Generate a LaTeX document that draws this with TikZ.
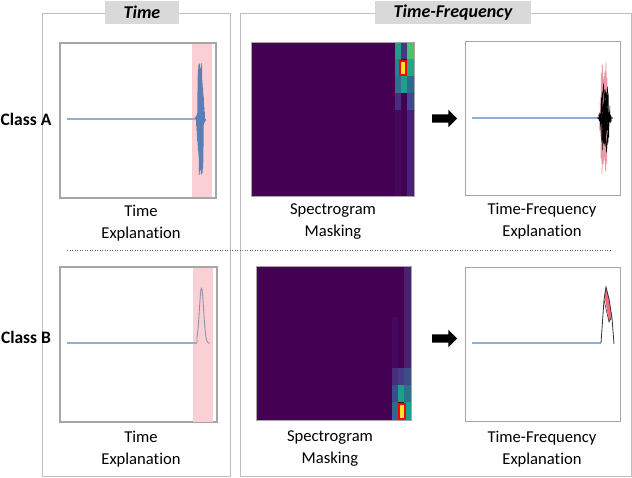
\documentclass[tikz,border=0pt]{standalone}
\usepackage{fontspec}
\setmainfont{Carlito}[Ligatures=NoCommon,RawFeature=-liga]
\usetikzlibrary{shapes.arrows}
\definecolor{vpurple}{HTML}{440154}
\definecolor{framegray}{HTML}{BFBFBF}
\definecolor{plotgray}{HTML}{A6A6A6}
\definecolor{tabgray}{HTML}{D9D9D9}
\definecolor{bandpink}{HTML}{FAD0D4}
\definecolor{sigblue}{HTML}{8FB0D4}
\definecolor{burstblue}{HTML}{5B7DB8}
\definecolor{peakgray}{HTML}{8A95B0}
\definecolor{burstpink}{HTML}{E89AA6}
\definecolor{peakred}{HTML}{EE6F7A}
\definecolor{vA}{HTML}{46085C}
\definecolor{vB}{HTML}{482173}
\definecolor{vC}{HTML}{472D7B}
\definecolor{vD}{HTML}{3E4A89}
\definecolor{vE}{HTML}{31688E}
\definecolor{vF}{HTML}{26828E}
\definecolor{vG}{HTML}{1F9E89}
\definecolor{vI}{HTML}{4AC16D}
\definecolor{vJ}{HTML}{443A83}
\definecolor{vK}{HTML}{22A884}
\definecolor{vL}{HTML}{2C728E}
\definecolor{vyel}{HTML}{FDE725}
\tikzset{
  outerbox/.style={draw=framegray, line width=0.9pt},
  tab/.style={fill=tabgray, inner sep=0pt, font=\fontsize{18}{20}\selectfont\bfseries\itshape},
  plotbox/.style={draw=plotgray, line width=1.2pt, fill=white},
  specbox/.style={draw=plotgray, line width=0.8pt, fill=vpurple},
  lbl/.style={align=center, font=\fontsize{16.6}{22}\selectfont, inner sep=0pt},
  cls/.style={font=\fontsize{17.5}{20}\selectfont\bfseries, inner sep=0pt},
  blockarrow/.style={single arrow, fill=black, draw=none, minimum height=25pt,
    minimum width=17pt, single arrow head extend=4.5pt, inner sep=4pt},
  band/.style={fill=bandpink, draw=none},
  hot/.style={fill=vyel, draw=red, line width=1.1pt}
}
\begin{document}
\begin{tikzpicture}[x=1pt,y=-1pt]
\useasboundingbox (0,0) rectangle (632,478);
\fill[white] (0,0) rectangle (632,478);

% outer panels
\draw[outerbox] (42,13) rectangle (230,476);
\draw[outerbox] (240,13) rectangle (631,476);
\node[tab, minimum width=74pt, minimum height=23pt] (tabT) at (142,12.5) {Time};
\node[tab, minimum width=156pt, minimum height=23pt] (tabTF) at (453,12.5) {Time-Frequency};

% class labels
\node[cls] (clsA) at (26,119) {Class A};
\node[cls] (clsB) at (26,337) {Class B};

% ---------- Class A : time ----------
\node[plotbox, minimum width=155pt, minimum height=154pt, inner sep=0pt, anchor=north west] (pA) at (60,43) {};
\fill[band] (192,43) rectangle (212,197);
\draw[plotgray, line width=1.2pt] (pA.north west) rectangle (pA.south east);
\draw[sigblue, line width=1.2pt] (67,119) -- (196,119);
\draw[burstblue, line width=0.5pt] plot[samples=110, domain=-7:7, smooth=false]
  ({200.5+0.5*\x+1.8*sin(\x*733)}, {119+56*exp(-(\x/3.2)^2)*sin(\x*1400)});
\node[lbl] (tA) at (141,223) {Time\\Explanation};

% ---------- Class A : spectrogram ----------
\node[specbox, minimum width=163pt, minimum height=154pt, inner sep=0pt, anchor=north west] (sA) at (251,42) {};
\fill[vA] (395,110) rectangle (401,196);
\fill[vB] (407,110) rectangle (414,196);
\fill[vC] (395,93) rectangle (401,110);
\fill[vD] (407,93) rectangle (414,110);
\fill[vL] (395,76) rectangle (401,93);
\fill[vG] (401,76) rectangle (407,93);
\fill[vE] (407,76) rectangle (414,93);
\fill[vF] (395,59) rectangle (401,76);
\fill[vK] (407,59) rectangle (414,76);
\fill[vG] (395,42) rectangle (401,59);
\fill[vJ] (401,42) rectangle (407,59);
\fill[vI] (407,42) rectangle (414,59);
\draw[hot] (400,61) rectangle (406,75);
\draw[plotgray, line width=0.8pt] (sA.north west) rectangle (sA.south east);
\node[lbl] (mA) at (333,222) {Spectrogram\\Masking};
\node[blockarrow] (arA) at (442.5,118.5) {};

% ---------- Class A : time-frequency ----------
\node[plotbox, minimum width=155pt, minimum height=154pt, inner sep=0pt, anchor=north west] (qA) at (465,41) {};
\draw[sigblue, line width=1.2pt] (472,118) -- (600,118);
\draw[burstpink, line width=0.6pt] plot[samples=140, domain=-7:7, smooth=false]
  ({604+0.5*\x+2.2*sin(\x*811)}, {118+57*exp(-(\x/3.2)^2)*sin(\x*1300)});
\draw[black, line width=0.45pt] plot[samples=110, domain=-6:6, smooth=false]
  ({605+0.9*\x+2.5*sin(\x*677)}, {118+34*exp(-(\x/2.8)^2)*sin(\x*1511)});
\node[lbl] (eA) at (542,221) {Time-Frequency\\Explanation};

% separator
\coordinate (sepL) at (67,250);
\coordinate (sepR) at (610,250);
\draw[gray!80!black, line width=0.5pt, dotted] (sepL) -- (sepR);

% ---------- Class B : time ----------
\node[plotbox, minimum width=156pt, minimum height=154pt, inner sep=0pt, anchor=north west] (pB) at (60,267) {};
\fill[band] (193,267) rectangle (213,422);
\draw[plotgray, line width=1.2pt] (pB.north west) rectangle (pB.south east);
\draw[sigblue, line width=1.2pt] (67,343) -- (197,343);
\draw[peakgray, line width=0.9pt] (197,343) -- plot[samples=40, domain=197:209] (\x, {343-55*exp(-((\x-201.5)/3)^2)}) -- (209,344);
\node[lbl] (tB) at (141,449) {Time\\Explanation};

% ---------- Class B : spectrogram ----------
\node[specbox, minimum width=155pt, minimum height=154pt, inner sep=0pt, anchor=north west] (sB) at (256,266) {};
\fill[vB] (404,266) rectangle (411,368);
\fill[vA] (392,317) rectangle (398,368);
\fill[vC] (392,368) rectangle (398,385);
\fill[vJ] (398,368) rectangle (404,385);
\fill[vD] (404,368) rectangle (411,385);
\fill[vD] (392,385) rectangle (398,402);
\fill[vG] (398,385) rectangle (404,402);
\fill[vL] (404,385) rectangle (411,402);
\fill[vE] (392,402) rectangle (398,420);
\fill[vG] (404,402) rectangle (411,420);
\draw[hot] (399,404) rectangle (405,419);
\draw[plotgray, line width=0.8pt] (sB.north west) rectangle (sB.south east);
\node[lbl] (mB) at (330,449) {Spectrogram\\Masking};
\node[blockarrow] (arB) at (442.5,338.5) {};

% ---------- Class B : time-frequency ----------
\node[plotbox, minimum width=155pt, minimum height=154pt, inner sep=0pt, anchor=north west] (qB) at (465,267) {};
\draw[sigblue, line width=1.2pt] (472,343) -- (601,343);
\fill[peakred] (604,296) -- (606,287) -- (609,298) -- (612,318) -- (609,322) -- (606,304) -- cycle;
\draw[black!80, line width=0.8pt] (601,343) -- (604,300) -- (606,287) -- (609,299) -- (612,318) -- (614,344);
\draw[black!80, line width=0.6pt] (604,300) -- (609,322) -- (611,318);
\node[lbl] (eB) at (542,449) {Time-Frequency\\Explanation};
\end{tikzpicture}
\end{document}
